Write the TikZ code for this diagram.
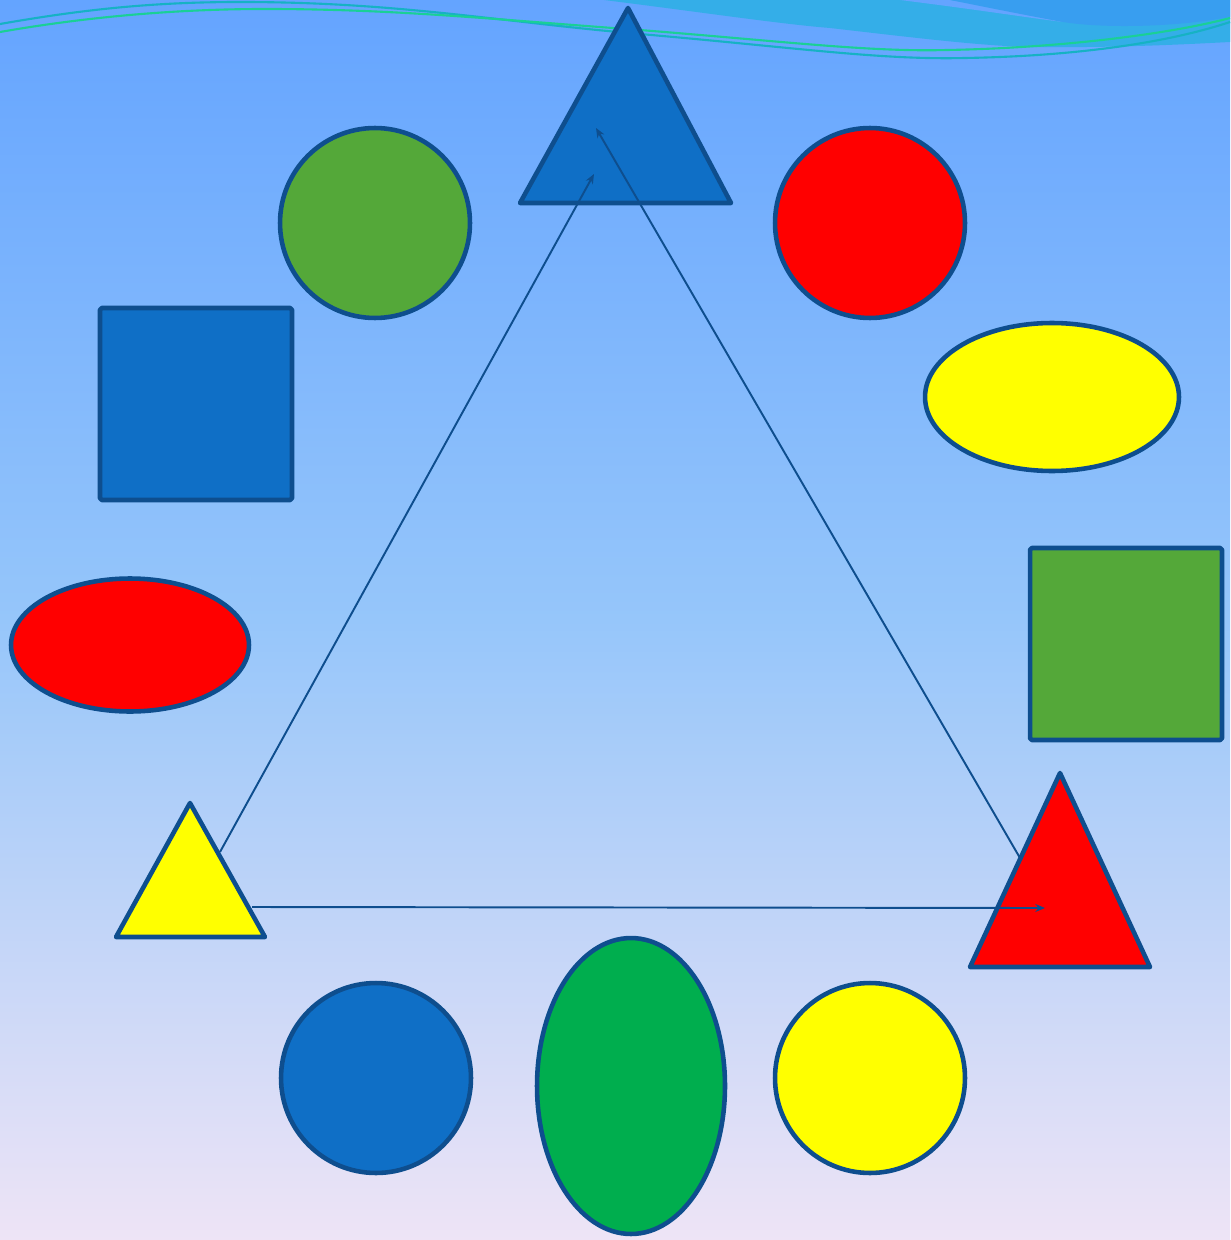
\documentclass[tikz,border=0pt]{standalone}
\usepackage{xcolor}
\usepackage{tikz}
\usetikzlibrary{shapes.geometric,arrows.meta}

\definecolor{rim}{RGB}{14,78,142}
\definecolor{fillblue}{RGB}{15,111,198}
\definecolor{fillgreen}{RGB}{84,168,57}
\definecolor{fillred}{RGB}{255,0,0}
\definecolor{fillyellow}{RGB}{255,255,0}
\definecolor{fillemerald}{RGB}{0,174,78}
\definecolor{skytop}{RGB}{100,164,255}
\definecolor{skymid}{RGB}{150,198,250}
\definecolor{skybot}{RGB}{238,228,246}
\definecolor{bandcyan}{RGB}{52,174,232}
\definecolor{banddark}{RGB}{56,158,240}
\definecolor{waveteal}{RGB}{22,178,196}
\definecolor{wavegreen}{RGB}{26,208,150}

\tikzset{
  shapeline/.style={draw=rim, line width=2.6pt},
  disc/.style={shapeline, circle, inner sep=0pt, minimum size=3.8cm},
  oval/.style={shapeline, ellipse, inner sep=0pt},
  block/.style={shapeline, rectangle, rounded corners=1pt, inner sep=0pt, minimum size=3.84cm},
  link/.style={draw=rim, line width=1.1pt, -{Stealth[length=5.5pt,width=4.5pt]}}
}

\begin{document}
\begin{tikzpicture}[x=0.02cm, y=-0.02cm, line join=round]
  \useasboundingbox (0,0) rectangle (1230,1240);
  % Background
  \shade[top color=skytop, bottom color=skybot, middle color=skymid] (0,0) rectangle (1230,1240);

  % Waves at the top
  \fill[bandcyan] (604,0) .. controls (700,12) and (780,24) .. (830,28)
    .. controls (900,36) and (980,46) .. (1030,47)
    .. controls (1120,48) and (1190,44) .. (1230,42) -- (1230,0) -- cycle;
  \fill[skytop] (900,0) .. controls (980,10) and (1030,18) .. (1063,22)
    .. controls (1010,10) and (975,4) .. (950,0) -- cycle;
  \fill[banddark] (950,0) .. controls (990,8) and (1030,16) .. (1063,22)
    .. controls (1100,28) and (1170,28) .. (1230,17) -- (1230,0) -- cycle;
  \draw[waveteal, line width=1.2pt] (0,24) .. controls (80,10) and (150,2) .. (240,2)
    .. controls (400,2) and (500,22) .. (640,34)
    .. controls (800,48) and (880,60) .. (965,58)
    .. controls (1080,56) and (1170,42) .. (1230,22);
  \draw[wavegreen, line width=1.2pt] (0,32) .. controls (80,18) and (170,9) .. (265,9)
    .. controls (400,9) and (500,20) .. (640,30)
    .. controls (790,42) and (870,52) .. (947,50)
    .. controls (1060,48) and (1170,34) .. (1230,18);

  % Ring of shapes
  \node[disc, fill=fillgreen] (greencircle) at (375,223) {};
  \node[disc, fill=fillred] (redcircle) at (870,223) {};
  \node[oval, fill=fillyellow, minimum width=5.08cm, minimum height=2.96cm] (yellowoval) at (1052,397) {};
  \node[block, fill=fillblue] (bluesquare) at (196,404) {};
  \node[oval, fill=fillred, minimum width=4.76cm, minimum height=2.66cm] (redoval) at (130,645) {};
  \node[block, fill=fillgreen] (greensquare) at (1126,644) {};
  \node[disc, fill=fillblue] (bluecircle) at (376,1078) {};
  \node[oval, fill=fillemerald, minimum width=3.76cm, minimum height=5.92cm] (greenoval) at (631,1086) {};
  \node[disc, fill=fillyellow] (yellowcircle) at (870,1078) {};

  % Triangles
  \coordinate (bt) at (628,8);
  \draw[shapeline, fill=fillblue] (bt) -- (731,203) -- (520,203) -- cycle;
  \coordinate (yt) at (190,803);
  \draw[shapeline, fill=fillyellow] (yt) -- (265,937) -- (116,937) -- cycle;
  \coordinate (rt) at (1060,773);
  \draw[shapeline, fill=fillred] (rt) -- (1150,967) -- (970,967) -- cycle;

  % Arrows between triangles
  \coordinate (yt-up) at (220,852);
  \coordinate (bt-left) at (594,174);
  \coordinate (rt-up) at (1020,858);
  \coordinate (bt-right) at (596,128);
  \coordinate (yt-right) at (252,907);
  \coordinate (rt-in) at (1045,908);
  \draw[link] (yt-up) -- (bt-left);
  \draw[link] (rt-up) -- (bt-right);
  \draw[link] (yt-right) -- (rt-in);
\end{tikzpicture}
\end{document}
